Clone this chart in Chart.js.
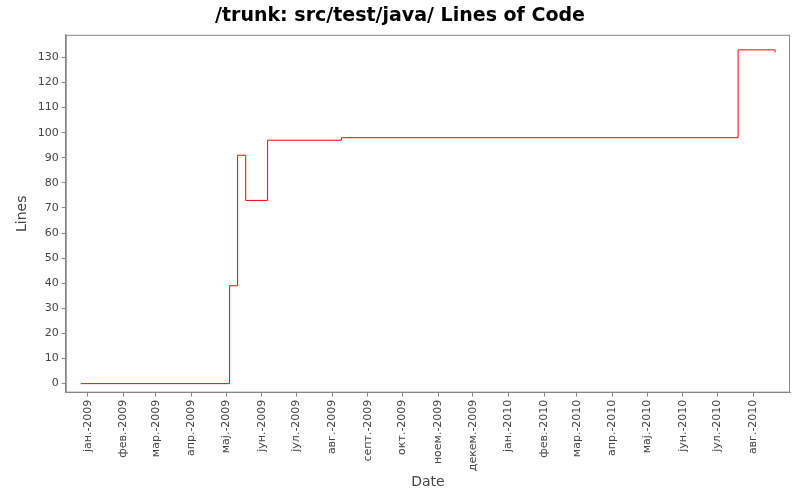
<!DOCTYPE html>
<html><head><meta charset="utf-8">
<script src="https://cdn.jsdelivr.net/npm/chart.js@4"></script>
<style>body{margin:0;background:#fff}#wrap{width:800px;height:500px}</style>
</head><body><div id="wrap"><canvas id="c"></canvas></div>
<script>
// days since 2009-01-01
const days = [-6, 123, 130, 137, 156, 220, 564, 595, 596];
const lines = [0, 39, 91, 73, 97, 98, 133, 133, 132];
const monthLabels = ['јан.-2009','фев.-2009','мар.-2009','апр.-2009','мај.-2009','јун.-2009','јул.-2009','авг.-2009','септ.-2009','окт.-2009','ноем.-2009','декем.-2009','јан.-2010','фев.-2010','мар.-2010','апр.-2010','мај.-2010','јун.-2010','јул.-2010','авг.-2010'];
const monthLengths = [31,28,31,30,31,30,31,31,30,31,30,31,31,28,31,30,31,30,31];

const monthStarts = [0];
monthLengths.forEach(l => monthStarts.push(monthStarts[monthStarts.length - 1] + l));

new Chart(document.getElementById('c'), {
    type: 'line',
    data: {
        datasets: [{
            data: days.map((d, i) => ({ x: d, y: lines[i] })),
            borderColor: '#ff0000',
            borderWidth: 1,
            stepped: true,
            pointRadius: 0,
            fill: false
        }]
    },
    options: {
        responsive: true,
        maintainAspectRatio: false,
        animation: false,
        layout: { padding: { left: 10, right: 10, top: 0, bottom: 9 } },
        plugins: {
            legend: { display: false },
            tooltip: { enabled: false },
            title: {
                display: true,
                text: '/trunk: src/test/java/ Lines of Code',
                font: { family: 'DejaVu Sans', size: 19, weight: 'bold' },
                color: '#000',
                padding: { top: 5, bottom: 7 }
            }
        },
        scales: {
            x: {
                type: 'linear',
                min: -19,
                max: 609,
                afterBuildTicks: axis => { axis.ticks = monthStarts.map(v => ({ value: v })); },
                ticks: {
                    autoSkip: false,
                    maxRotation: 90,
                    minRotation: 90,
                    color: '#444',
                    font: { family: 'DejaVu Sans', size: 11 },
                    callback: (v, i) => monthLabels[i]
                },
                grid: { drawOnChartArea: false, drawTicks: true, tickLength: 4, color: '#888' },
                border: { color: '#888' },
                title: { display: true, text: 'Date', font: { family: 'DejaVu Sans', size: 14 }, color: '#444', padding: 0 }
            },
            y: {
                min: -3.6,
                max: 139,
                afterBuildTicks: axis => {
                    axis.ticks = [];
                    for (let v = 0; v <= 130; v += 10) axis.ticks.push({ value: v });
                },
                ticks: { color: '#444', font: { family: 'DejaVu Sans', size: 11 } },
                grid: { drawOnChartArea: false, tickLength: 4, color: '#888' },
                border: { color: '#888' },
                title: { display: true, text: 'Lines', font: { family: 'DejaVu Sans', size: 14 }, color: '#444' }
            }
        }
    },
    plugins: [{
        id: 'frame',
        afterDraw(chart) {
            const { ctx, chartArea: a } = chart;
            ctx.save();
            ctx.strokeStyle = '#888';
            ctx.lineWidth = 1;
            ctx.strokeRect(a.left + 0.5, a.top + 0.5, a.right - a.left - 1, a.bottom - a.top - 1);
            ctx.restore();
        }
    }]
});
</script></body></html>
